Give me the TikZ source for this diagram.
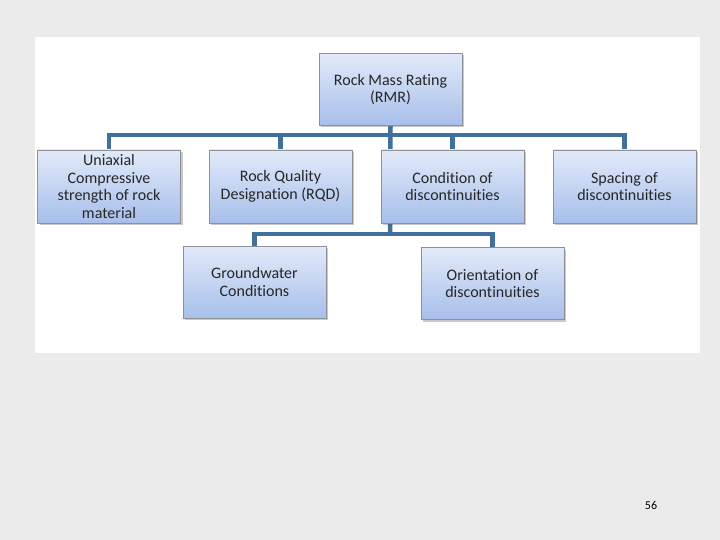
\documentclass[tikz,border=0pt]{standalone}
\usepackage{fontspec}
\setmainfont[Ligatures=NoCommon]{Carlito}
\usepackage{xcolor}
\usepackage{tikz}
\usetikzlibrary{calc,shadows,backgrounds}
\definecolor{pagebg}{HTML}{EBEBEB}
\definecolor{boxtop}{HTML}{E2EAF9}
\definecolor{boxbot}{HTML}{A7BFEB}
\definecolor{boxedge}{HTML}{8E9096}
\definecolor{linkx}{HTML}{41709A}
\definecolor{txt}{HTML}{262626}
\tikzset{
  box/.style={draw=boxedge,line width=0.8pt,top color=boxtop,bottom color=boxbot,
    minimum width=143,minimum height=72,align=center,text=txt,font=\fontsize{16}{17.6}\selectfont,
    inner sep=1pt,drop shadow={shadow xshift=2pt,shadow yshift=-2pt,opacity=0.35,fill=black!60}},
  link/.style={linkx,line width=4.5pt}
}
\begin{document}
\begin{tikzpicture}[x=1pt,y=-1pt]
\useasboundingbox (0,0) rectangle (720,540);
\begin{pgfonlayer}{background}
\fill[pagebg] (0,0) rectangle (720,540);
\fill[white] (35,37) rectangle (700,353);
\end{pgfonlayer}
% boxes
\node[box] (rmr) at (390.5,89.5) {Rock Mass Rating\\(RMR)};
\node[box,minimum height=73] (ucs) at (109,186.5) {Uniaxial\\Compressive\\strength of rock\\material};
\node[box,minimum height=73] (rqd) at (280.5,186.5) {Rock Quality\\Designation (RQD)};
\node[box,minimum height=73] (cond) at (452.5,186.5) {Condition of\\discontinuities};
\node[box,minimum height=73] (spac) at (624.5,186.5) {Spacing of\\discontinuities};
\node[box] (gw) at (254.5,282) {Groundwater\\Conditions};
\node[box] (orient) at (492.5,283.5) {Orientation of\\discontinuities};
\coordinate (bar) at (390,135);
\coordinate (lowbar) at (390,234);
% connectors
\begin{pgfonlayer}{background}
\draw[link] (ucs.north) |- (spac.north |- bar) -- (spac.north);
\draw[link] (rqd.north) -- (rqd.north |- bar);
\draw[link] (cond.north) -- (cond.north |- bar);
\draw[link] (rmr.south) -- (lowbar);
\draw[link] (gw.north) |- (orient.north |- lowbar) -- (orient.north);
\end{pgfonlayer}
\node[font=\fontsize{12}{14}\selectfont] (page) at (651,505) {56};
\end{tikzpicture}
\end{document}
